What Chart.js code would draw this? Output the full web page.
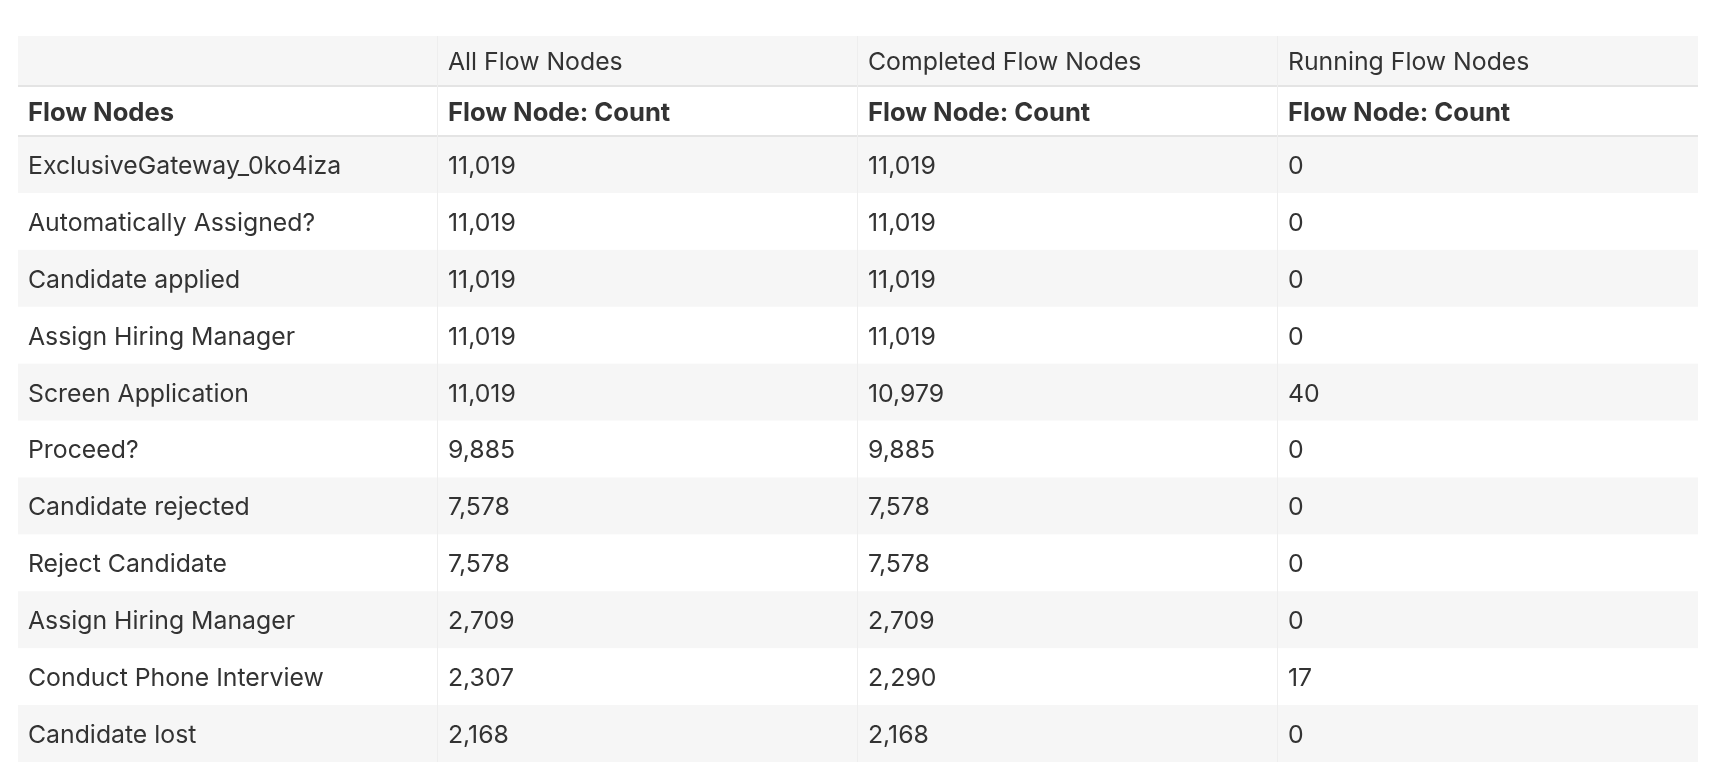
<!DOCTYPE html>
<html lang="en">
<head>
    <meta charset="UTF-8">
    <title>Flow Nodes</title>
    <script src="https://cdn.jsdelivr.net/npm/chart.js"></script>
    <style>
        html, body { margin: 0; padding: 0; background: #ffffff; }
        .table-container { width: 1712px; height: 762px; }
    </style>
</head>
<body>
    <div class="table-container">
        <canvas id="flowTable" width="1712" height="762"></canvas>
    </div>

    <script>
        // Dados da tabela
        const groupHeaders = ['', 'All Flow Nodes', 'Completed Flow Nodes', 'Running Flow Nodes'];
        const measureHeaders = ['Flow Nodes', 'Flow Node: Count', 'Flow Node: Count', 'Flow Node: Count'];
        const flowNodes = [
            'ExclusiveGateway_0ko4iza',
            'Automatically Assigned?',
            'Candidate applied',
            'Assign Hiring Manager',
            'Screen Application',
            'Proceed?',
            'Candidate rejected',
            'Reject Candidate',
            'Assign Hiring Manager',
            'Conduct Phone Interview',
            'Candidate lost'
        ];
        const allCounts = [11019, 11019, 11019, 11019, 11019, 9885, 7578, 7578, 2709, 2307, 2168];
        const completedCounts = [11019, 11019, 11019, 11019, 10979, 9885, 7578, 7578, 2709, 2290, 2168];
        const runningCounts = [0, 0, 0, 0, 40, 0, 0, 0, 0, 17, 0];

        const headerHeight = 50;
        const cellPad = 10;
        const textShift = 2;
        const fontFamily = 'Inter, "Noto Sans", sans-serif';

        // Plugin que desenha as células da tabela usando as escalas
        const tablePlugin = {
            id: 'tablePlugin',
            beforeDraw(chart) {
                const ctx = chart.ctx;
                const xs = chart.scales.x;
                const ys = chart.scales.y;
                const area = chart.chartArea;
                const left = xs.getPixelForValue(0);
                const right = xs.getPixelForValue(groupHeaders.length);
                const top = area.top - headerHeight * 2;

                ctx.save();
                ctx.fillStyle = '#ffffff';
                ctx.fillRect(0, 0, chart.width, chart.height);

                // cabeçalho cinza
                ctx.fillStyle = '#f6f6f6';
                ctx.fillRect(left, top, right - left, headerHeight);

                // linhas alternadas
                flowNodes.forEach((name, i) => {
                    const y0 = ys.getPixelForValue(i - 0.5);
                    const y1 = ys.getPixelForValue(i + 0.5);
                    if (i % 2 === 0) {
                        ctx.fillStyle = '#f6f6f6';
                        ctx.fillRect(left, y0, right - left, y1 - y0);
                    }
                });

                // linhas horizontais do cabeçalho
                ctx.fillStyle = '#e4e4e4';
                ctx.fillRect(left, top + headerHeight - 1, right - left, 2);
                ctx.fillRect(left, area.top - 1, right - left, 2);

                // linhas verticais
                ctx.fillStyle = '#eeeeee';
                for (let c = 1; c < groupHeaders.length; c++) {
                    const x = Math.round(xs.getPixelForValue(c));
                    ctx.fillRect(x - 1, top, 1, chart.height - top);
                }

                // textos
                ctx.textBaseline = 'middle';
                ctx.textAlign = 'left';
                ctx.fillStyle = '#333333';

                ctx.font = '400 24.8px ' + fontFamily;
                groupHeaders.forEach((h, c) => {
                    ctx.fillText(h, xs.getPixelForValue(c) + cellPad, top + headerHeight / 2 + textShift);
                });

                ctx.font = '700 25.6px ' + fontFamily;
                measureHeaders.forEach((h, c) => {
                    ctx.fillText(h, xs.getPixelForValue(c) + cellPad, top + headerHeight * 1.5 + textShift);
                });

                ctx.font = '400 24.8px ' + fontFamily;
                const columns = [flowNodes, allCounts, completedCounts, runningCounts];
                columns.forEach((col, c) => {
                    col.forEach((v, i) => {
                        const text = typeof v === 'number' ? v.toLocaleString('en-US') : v;
                        ctx.fillText(text, xs.getPixelForValue(c) + cellPad, ys.getPixelForValue(i) + textShift);
                    });
                });
                ctx.restore();
            }
        };

        const config = {
            type: 'scatter',
            data: { datasets: [] },
            options: {
                responsive: false,
                animation: false,
                layout: {
                    padding: { left: 18, right: 14, top: 36 + headerHeight * 2, bottom: 0 }
                },
                scales: {
                    x: { type: 'linear', min: 0, max: groupHeaders.length, display: false },
                    y: { type: 'linear', min: -0.5, max: flowNodes.length - 0.5, reverse: true, display: false }
                },
                plugins: {
                    legend: { display: false },
                    tooltip: { enabled: false }
                }
            },
            plugins: [tablePlugin]
        };

        const tableChart = new Chart(document.getElementById('flowTable'), config);
    </script>
</body>
</html>
